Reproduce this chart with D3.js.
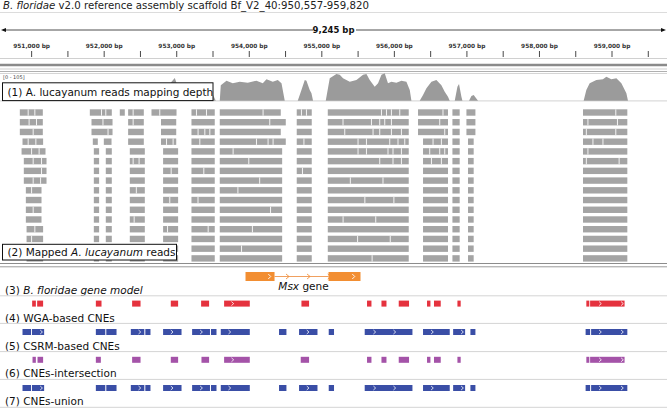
<!DOCTYPE html>
<html><head><meta charset="utf-8">
<script src="https://cdn.jsdelivr.net/npm/d3@7/dist/d3.min.js"></script>
<style>body{margin:0;background:#fff}svg{display:block}text{font-family:"DejaVu Sans",sans-serif}</style>
</head><body><svg id="c" width="667" height="408"></svg>
<script>
// ---------------- data ----------------
const regionBp = [950557, 959820];
const regionLengthLabel = "9,245 bp";
const rulerTickValues = [951000,951500,952000,952500,953000,953500,954000,954500,955000,955500,956000,956500,957000,957500,958000,958500,959000,959500];
const rulerLabelValues = [951000,952000,953000,954000,955000,956000,957000,958000,959000];
const coverageMax = 105;
const coverage = [
 [950830,0],[950850,40],[951000,50],[951150,45],[951200,0],
 [951800,0],[951830,45],[952000,50],[952120,45],[952130,0],
 [952220,0],[952230,20],[952300,20],[952320,45],[952440,55],[952560,40],[952570,0],
 [952630,0],[952650,25],[952780,40],[952900,60],[952980,86],[953020,55],[953040,0],
 [953190,0],[953200,45],[953330,55],[953460,50],[953545,0],
 [953600,0],[953614,59],[953693,76],[953779,66],[953876,72],[953986,68],[954106,76],[954193,66],[954244,81],[954331,72],[954400,78],[954451,66],[954496,0],
 [954675,0],[954726,41],[954772,78],[954795,76],[954840,41],[954864,28],[954886,0],
 [955061,0],[955116,85],[955208,101],[955254,98],[955299,85],[955392,72],[955484,78],[955575,98],[955622,101],[955667,78],[955736,53],[955782,66],[955829,98],[955874,104],[955919,66],[955966,72],[956035,68],[956104,76],[956173,72],[956219,41],[956242,0],
 [956356,0],[956402,22],[956449,47],[956518,72],[956586,78],[956655,59],[956701,34],[956746,15],[956770,0],
 [956839,0],[956876,53],[956898,63],[956931,15],[956945,0],
 [957036,0],[957069,18],[957100,22],[957160,0],
 [958616,0],[958653,41],[958699,66],[958791,78],[958882,81],[958929,91],[958998,81],[959067,85],[959136,66],[959205,28],[959227,0]
];
// [firstRow, lastRow, startBp, endBp]
const readBlocks = [
 [0,2,950844,951161],[3,3,950881,951165],[4,4,950868,951198],[5,7,950899,951212],[8,11,950927,951143],[12,15,950937,951165],
 [0,0,951809,952112],[1,2,951832,952122],[3,3,951850,951919],[3,3,952002,952108],[4,15,951864,951937],[4,15,952029,952112],
 [0,0,952222,952291],
 [0,3,952337,952553],[4,15,952360,952567],
 [0,0,952659,953004],[1,3,952790,953000],[4,15,952819,953026],
 [0,15,953210,953531],
 [0,0,953600,954441],[1,1,953600,954510],[2,2,953600,954441],[3,3,953600,954510],[4,15,953600,954460],
 [0,15,954661,954868],
 [0,15,955089,956205],
 [0,2,956333,956746],[3,15,956402,956746],
 [0,15,956807,956907],
 [0,2,957000,957124],[3,15,957022,957100],
 [0,15,958607,959218]
];
// boundaries between neighbouring reads: [row, bp]
const readGaps = [
 [0,950959],[0,951051],[1,950972],[1,951074],[2,951028],[3,950959],[3,951065],[4,951006],[4,951110],[5,951028],[5,951143],[6,951143],[7,951028],[7,951130],[8,951006],[10,951028],[12,951051],[13,951006],
 [0,951970],[0,952029],[1,951990],[2,952060],
 [0,952406],[1,952406],[5,952406],[5,952488],[8,952450],[11,952420],
 [0,952773],[3,952866],[3,952957],[6,952930],[9,952911],[12,952880],
 [0,953279],[0,953417],[2,953301],[2,953394],[2,953463],[3,953325],[6,953380],[9,953300],[12,953440],
 [0,954197],[1,954289],[3,954106],[3,954266],[3,954335],[4,953784],[5,954000],[7,954150],[8,953850],[10,954300],[12,954050],[14,953900],
 [0,954726],[0,954795],[3,954760],[6,954740],
 [0,955829],[0,955898],[0,955966],[0,956081],[1,955299],[1,955691],[1,955805],[1,955874],[1,955966],[2,955323],[2,955713],[2,955805],[2,955966],[2,956104],
 [3,955506],[3,955622],[3,955943],[3,956057],[3,956150],[4,955506],[4,955622],[4,955919],[4,955988],[4,956104],[5,955805],[5,955988],[5,956104],
 [7,955400],[7,955850],[9,955600],[9,956000],[11,955300],[11,955750],[13,955500],[13,955950],[15,955700],
 [0,956677],[1,956632],[2,956701],[3,956540],[3,956655],[4,956494],[4,956632],[4,956701],[5,956518],[5,956655],
 [0,959059],[1,958675],[1,959082],[2,958653],[2,959059],[3,958744],[3,958882],[4,958675],[5,958653],[5,959105]
];
const readRowCount = 16;
const geneExons = [[953955,954355],[955099,955540]];
const geneExonArrows = [954289,955447];
const geneIntronArrows = [954541,954831,955116];
const wgaCNEs = [[951014,951065],[951083,951165],[951892,951970],[952392,952508],[952925,953026],[953343,953453],[953660,954014],[954726,954831],[955630,955691],[955829,955898],[956067,956209],[956457,956504],[956553,956646],[956876,956921],[958653,958694],[958705,959180]];
const wgaArrows = [953779,958847,959150];
const csrmCNEs = [[950881,950999],[951012,951179],[951892,952022],[952036,952177],[952374,952560],[952574,952645],[952819,953073],[953219,953465],[953479,953555],[953614,954014],[954417,954519],[954693,954947],[955102,955175],[955598,956256],[956402,956770],[956817,956982],[957055,957124],[958643,958705],[958719,959218]];
const csrmArrows = [951143,952498,952943,953348,953738,954817,955736,956012,956531,956945,958847,959150];
const intersectionCNEs = [[951019,951065],[951088,951165],[951892,951961],[952392,952508],[952925,953026],[953348,953453],[953660,954014],[954716,954831],[955630,955691],[955829,955898],[956067,956209],[956457,956504],[956553,956646],[956876,956921],[958653,958694],[958705,959180]];
const intersectionArrows = [953779,958847,959150];
const unionCNEs = [[950881,950999],[951012,951179],[951892,952022],[952036,952177],[952374,952560],[952574,952645],[952819,953073],[953219,953465],[953479,953555],[953614,954014],[954417,954519],[954693,954947],[955102,955175],[955598,956256],[956402,956770],[956817,956982],[957055,957124],[958643,958705],[958719,959218]];
const unionArrows = [951143,952498,952943,953348,953738,954817,955736,956012,956531,956945,958847,959150];

// ---------------- drawing ----------------
const svg = d3.select("#c");
const W = 667;
const x = d3.scaleLinear().domain(regionBp).range([-1, 671]);
const hline = (y, color, w=1) => svg.append("line").attr("x1",0).attr("x2",W).attr("y1",y).attr("y2",y).attr("stroke",color).attr("stroke-width",w);

// title
const title = svg.append("text").attr("x",3).attr("y",9.3).attr("font-size",10.2).attr("fill","#222");
title.append("tspan").attr("font-style","italic").text("B. floridae");
title.append("tspan").text(" v2.0 reference assembly scaffold Bf_V2_40:950,557-959,820");
hline(12.5,"#dcdcdc");

// ruler arrow
const ry = 30;
svg.append("text").attr("x",333.5).attr("y",ry+3).attr("text-anchor","middle")
  .attr("font-family","Liberation Sans, Arial, sans-serif").attr("font-weight","bold").attr("font-size",8.5).attr("fill","#111").text(regionLengthLabel);
svg.append("line").attr("x1",x(regionBp[0])+4).attr("x2",313).attr("y1",ry).attr("y2",ry).attr("stroke","#222").attr("stroke-width",0.8);
svg.append("line").attr("x1",356).attr("x2",x(regionBp[1])-8).attr("y1",ry).attr("y2",ry).attr("stroke","#222").attr("stroke-width",0.8);
svg.append("path").attr("d",`M1,${ry} L6,${ry-2} L6,${ry+2} Z`).attr("fill","#111");
svg.append("path").attr("d",`M666,${ry} L661,${ry-2} L661,${ry+2} Z`).attr("fill","#111");

// ruler axis
const axis = d3.axisBottom(x).tickValues(rulerTickValues).tickSize(6)
  .tickFormat(d => rulerLabelValues.includes(d) ? d3.format(",")(d) + " bp" : "");
const ga = svg.append("g").attr("transform","translate(0,51)").call(axis);
ga.select(".domain").remove();
ga.selectAll(".tick line").attr("stroke","#333").attr("stroke-width",0.9);
ga.selectAll(".tick text").attr("y",-3.5).attr("dy",0).attr("font-family","Liberation Sans, Arial, sans-serif")
  .attr("font-weight","bold").attr("font-size",5.8).attr("fill","#333");

hline(58.5,"#d0d0d0");
hline(65,"#8a8a8a",2.4);
hline(69,"#cfcfcf");
hline(71.5,"#b0b0b0");
hline(73.5,"#d5d5d5");

// coverage
const covTop = 73, covBase = 100.7;
const yc = d3.scaleLinear().domain([0, coverageMax]).range([covBase, covTop]);
hline(100.9,"#c8c8c8",0.8);
svg.append("path").datum(coverage)
  .attr("d", d3.area().x(d=>x(d[0])).y0(covBase).y1(d=>yc(d[1])))
  .attr("fill","#9b9b9b");
svg.append("text").attr("x",3).attr("y",78.5).attr("font-family","Liberation Sans, Arial, sans-serif").attr("font-size",5).attr("fill","#444").text("[0 - 105]");

// reads
const readH = 6.4;
const rowY = d3.scaleLinear().domain([0, readRowCount-1]).range([109.3, 255.2]);
const readRects = [];
readBlocks.forEach(b => { for (let r=b[0]; r<=b[1]; r++) readRects.push([r,b[2],b[3]]); });
svg.append("g").selectAll("rect").data(readRects).join("rect")
  .attr("x", d=>x(d[1])).attr("width", d=>x(d[2])-x(d[1]))
  .attr("y", d=>rowY(d[0])).attr("height",readH).attr("fill","#a4a4a4");
svg.append("g").selectAll("rect").data(readGaps).join("rect")
  .attr("x", d=>x(d[1])-0.5).attr("width",1)
  .attr("y", d=>rowY(d[0])).attr("height",readH).attr("fill","#f4f4f4");

hline(263.5,"#8c8c8c");
hline(266.8,"#9a9a9a");

// label boxes
function boxLabel(x0, y0, w, h, parts, ty){
  svg.append("rect").attr("x",x0).attr("y",y0).attr("width",w).attr("height",h).attr("fill","#fff").attr("stroke","#111").attr("stroke-width",1);
  const t = svg.append("text").attr("x",x0+5).attr("y",ty).attr("font-size",10.5).attr("fill","#111");
  parts.forEach(p => t.append("tspan").attr("font-style",p[1]?"italic":"normal").text(p[0]));
}
boxLabel(2.5, 82.8, 210.5, 17.8, [["(1) A. lucayanum reads mapping depth",false]], 95.5);
boxLabel(2.5, 244.3, 174, 15.7, [["(2) Mapped ",false],["A. lucayanum",true],[" reads",false]], 256);

// gene model
const gy = 272, gh = 9;
svg.append("line").attr("x1",x(geneExons[0][1])).attr("x2",x(geneExons[1][0])).attr("y1",gy+gh/2).attr("y2",gy+gh/2).attr("stroke","#f0a060").attr("stroke-width",1);
svg.append("g").selectAll("path").data(geneIntronArrows).join("path")
  .attr("d", d=>`M${x(d)-2},${gy+gh/2-2.5} L${x(d)+1},${gy+gh/2} L${x(d)-2},${gy+gh/2+2.5}`)
  .attr("fill","none").attr("stroke","#f0903a").attr("stroke-width",0.9);
svg.append("g").selectAll("rect").data(geneExons).join("rect")
  .attr("x",d=>x(d[0])).attr("width",d=>x(d[1])-x(d[0])).attr("y",gy).attr("height",gh).attr("fill","#f28e32");
svg.append("g").selectAll("path").data(geneExonArrows).join("path")
  .attr("d", d=>`M${x(d)-1.5},${gy+gh/2-2.5} L${x(d)+1},${gy+gh/2} L${x(d)-1.5},${gy+gh/2+2.5}`)
  .attr("fill","none").attr("stroke","#fff").attr("stroke-width",0.9);
const msx = svg.append("text").attr("x",x((geneExons[0][0]+geneExons[1][1])/2)+0.5).attr("y",289.5).attr("text-anchor","middle").attr("font-size",10.5).attr("fill","#111");
msx.append("tspan").attr("font-style","italic").text("Msx");
msx.append("tspan").text(" gene");
const l3 = svg.append("text").attr("x",5).attr("y",293.8).attr("font-size",10.5).attr("fill","#111");
l3.append("tspan").text("(3) ");
l3.append("tspan").attr("font-style","italic").text("B. floridae gene model");
hline(295.8,"#d4d4d4");

// CNE tracks
function featureTrack(data, arrows, y, color, label, labelY, lineY){
  const g = svg.append("g");
  g.selectAll("rect").data(data).join("rect")
    .attr("x",d=>x(d[0])).attr("width",d=>Math.max(1,x(d[1])-x(d[0]))).attr("y",y).attr("height",6).attr("fill",color);
  g.selectAll("path").data(arrows).join("path")
    .attr("d", d=>`M${x(d)-1.3},${y+1} L${x(d)+0.9},${y+3} L${x(d)-1.3},${y+5}`)
    .attr("fill","none").attr("stroke","#fff").attr("stroke-width",0.8);
  svg.append("text").attr("x",5).attr("y",labelY).attr("font-size",10.5).attr("fill","#111").text(label);
  hline(lineY,"#d4d4d4");
}
featureTrack(wgaCNEs, wgaArrows, 300.6, "#e5323e", "(4) WGA-based CNEs", 321.8, 323.4);
featureTrack(csrmCNEs, csrmArrows, 329, "#3a4ea6", "(5) CSRM-based CNEs", 349.5, 351.6);
featureTrack(intersectionCNEs, intersectionArrows, 356.8, "#a453a8", "(6) CNEs-intersection", 377.2, 379.4);
featureTrack(unionCNEs, unionArrows, 385, "#3a4ea6", "(7) CNEs-union", 404.6, 407.3);
</script></body></html>
